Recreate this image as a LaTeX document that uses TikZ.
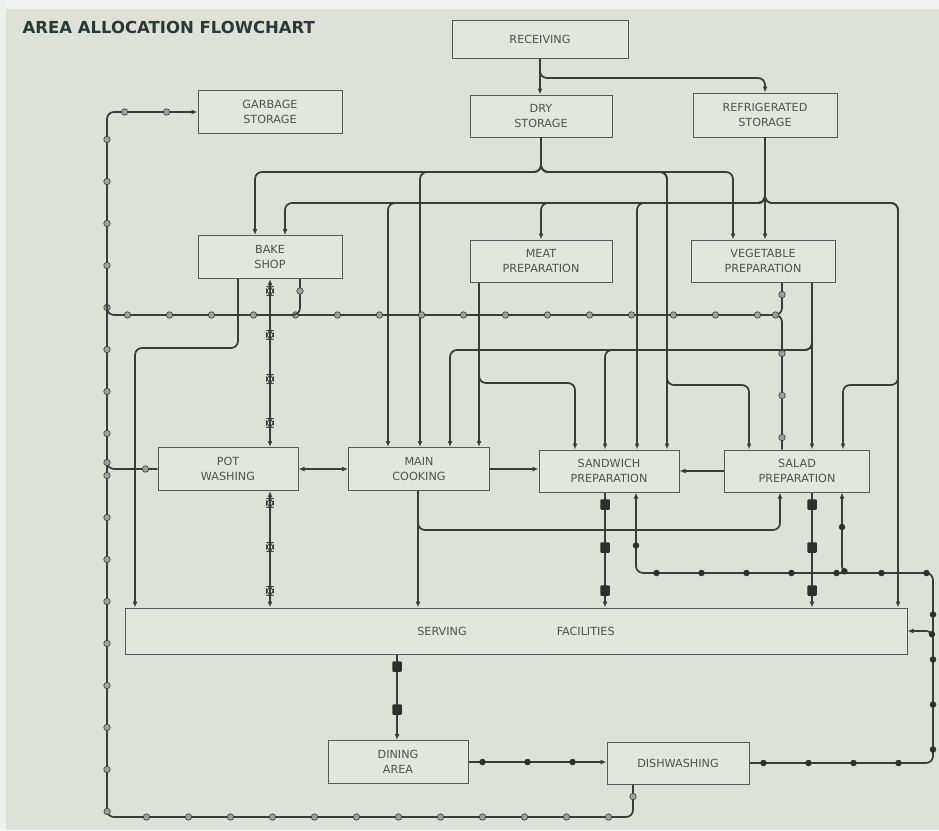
\documentclass[tikz,border=0pt]{standalone}
\usepackage{fontspec}
\newfontfamily\boxfont{DejaVu Sans}
\usetikzlibrary{arrows.meta,decorations.markings}

\definecolor{paper}{RGB}{222,225,215}
\definecolor{boxfill}{RGB}{227,230,221}
\definecolor{ink}{RGB}{58,60,56}
\definecolor{boxtext}{RGB}{80,82,78}
\definecolor{titleink}{RGB}{42,56,56}

\tikzset{
  area/.style={draw=ink!85, line width=1pt, fill=boxfill, minimum width=142pt,
    minimum height=42pt, align=center, inner sep=2pt, text=boxtext,
    font=\boxfont\fontsize{11.2}{15}\selectfont},
  heading/.style={anchor=west, text=titleink, font=\boxfont\bfseries\fontsize{16.5}{18}\selectfont},
  flow/.style={draw=ink, line width=1.7pt, rounded corners=7pt},
  tip/.style={-{Latex[length=6pt,width=5pt]}},
  twotip/.style={{Latex[length=6pt,width=5pt]}-{Latex[length=6pt,width=5pt]}},
  % markers on the lines
  wastedot/.style={circle, draw=ink, fill=gray!75, line width=0.6pt, inner sep=0pt, minimum size=6.5pt},
  potbox/.style={rectangle, draw=ink, line width=0.8pt, inner sep=0pt, minimum width=7pt, minimum height=9pt},
  foodbox/.style={rectangle, fill=ink!80!black, inner sep=0pt, minimum width=9.5pt, minimum height=10.5pt, rounded corners=1pt},
  dishdot/.style={circle, fill=ink!80!black, inner sep=0pt, minimum size=6.5pt},
  waste/.style={flow, postaction={decorate}, decoration={markings,
    mark=between positions 12pt and -8pt step 42pt with {\node[wastedot]{};}}},
  potline/.style={flow, postaction={decorate}, decoration={markings,
    mark=between positions 12pt and -8pt step 44pt with {\node[potbox]{};}}},
  foodline/.style={flow, postaction={decorate}, decoration={markings,
    mark=between positions 12pt and -8pt step 43pt with {\node[foodbox]{};}}},
  dishline/.style={flow, postaction={decorate}, decoration={markings,
    mark=between positions 14pt and -8pt step 45pt with {\node[dishdot]{};}}},
}

\begin{document}
\begin{tikzpicture}[x=1pt, y=-1pt]

  \useasboundingbox (0,0) rectangle (939,830);
  \fill[paper] (0,0) rectangle (939,830);
  \fill[white!60!paper] (0,0) rectangle (939,9);
  \fill[white!50!paper] (0,0) rectangle (6,830);

  \node[heading] (title) at (19,27) {AREA ALLOCATION FLOWCHART};

  % areas
  \node[area, minimum width=176pt, minimum height=38pt] (rec) at (540,39) {RECEIVING};
  \node[area, minimum width=144pt, minimum height=43pt] (garb) at (270,112) {GARBAGE\\STORAGE};
  \node[area] (dry) at (541,116) {DRY\\STORAGE};
  \node[area, minimum width=144pt, minimum height=44pt] (refr) at (765,115) {REFRIGERATED\\STORAGE};
  \node[area, minimum width=144pt, minimum height=43pt] (bake) at (270,257) {BAKE\\SHOP};
  \node[area] (meat) at (541,261) {MEAT\\PREPARATION};
  \node[area, minimum width=144pt] (veg) at (763,261) {VEGETABLE\\PREPARATION};
  \node[area, minimum width=140pt, minimum height=43pt] (pot) at (228,469) {POT\\WASHING};
  \node[area, minimum width=141pt, minimum height=43pt] (main) at (419,469) {MAIN\\COOKING};
  \node[area, minimum width=140pt] (sand) at (609,471) {SANDWICH\\PREPARATION};
  \node[area, minimum width=145pt] (salad) at (797,471) {SALAD\\PREPARATION};
  \node[area, minimum width=782pt, minimum height=46pt] (serv) at (516,631) {SERVING\hspace{90pt}FACILITIES};
  \node[area, minimum width=140pt, minimum height=43pt] (dine) at (398,762) {DINING\\AREA};
  \node[area, minimum width=142pt] (dish) at (678,763) {DISHWASHING};

  % joins onto lines already drawn
  \coordinate (bakejoin) at (284,315);
  \coordinate (wastejoin) at (107,296);
  \coordinate (saladwaste) at (766,315);
  \coordinate (potjoin) at (107,452);
  \coordinate (saladjoin) at (858,573);
  \coordinate (servjoin) at (933,648);

  % receiving
  \draw[flow,tip] (rec.south) -- (rec.south |- dry.north);
  \draw[flow,tip] (rec.south) -- (540,78) -- (765,78) -- (refr.north);

  % dry storage
  \draw[flow,tip] (dry.south) -- (541,172) -- (255,172) -- (255,0 |- bake.north);
  \draw[flow,tip] (dry.south) -- (541,172) -- (420,172) -- (420,0 |- main.north);
  \draw[flow,tip] (dry.south) -- (541,172) -- (733,172) -- (733,0 |- veg.north);
  \draw[flow,tip] (dry.south) -- (541,172) -- (667,172) -- (667,0 |- sand.north);
  \draw[flow,tip] (dry.south) -- (541,172) -- (667,172) -- (667,385) -- (749,385) -- (749,0 |- salad.north);

  % refrigerated storage
  \draw[flow,tip] (refr.south) -- (765,0 |- veg.north);
  \draw[flow,tip] (refr.south) -- (765,203) -- (285,203) -- (285,0 |- bake.north);
  \draw[flow,tip] (refr.south) -- (765,203) -- (388,203) -- (388,0 |- main.north);
  \draw[flow,tip] (refr.south) -- (765,203) -- (541,203) -- (meat.north);
  \draw[flow,tip] (refr.south) -- (765,203) -- (637,203) -- (637,0 |- sand.north);
  \draw[flow,tip] (refr.south) -- (765,203) -- (898,203) -- (898,0 |- serv.north);
  \draw[flow,tip] (refr.south) -- (765,203) -- (898,203) -- (898,385) -- (843,385) -- (843,0 |- salad.north);

  % meat and vegetable preparation
  \draw[flow,tip] (479,0 |- meat.south) -- (479,0 |- main.north);
  \draw[flow,tip] (479,0 |- meat.south) -- (479,383) -- (575,383) -- (575,0 |- sand.north);
  \draw[flow,tip] (812,0 |- veg.south) -- (812,0 |- salad.north);
  \draw[flow,tip] (812,0 |- veg.south) -- (812,350) -- (450,350) -- (450,0 |- main.north);
  \draw[flow,tip] (812,0 |- veg.south) -- (812,350) -- (605,350) -- (605,0 |- sand.north);

  % bake shop and pot washing
  \draw[flow,tip] (238,0 |- bake.south) -- (238,348) -- (135,348) -- (135,0 |- serv.north);
  \draw[potline,twotip] (270,0 |- bake.south) -- (270,0 |- pot.north);
  \draw[potline,twotip] (270,0 |- pot.south) -- (270,0 |- serv.north);
  \draw[flow,twotip] (pot.east) -- (main.west);

  % cooking and preparation
  \draw[flow,tip] (main.east) -- (main.east -| sand.west);
  \draw[flow,tip] (418,0 |- main.south) -- (418,0 |- serv.north);
  \draw[flow,tip] (418,0 |- main.south) -- (418,530) -- (780,530) -- (780,0 |- salad.south);
  \draw[flow,tip] (salad.west) -- (salad.west -| sand.east);
  \draw[foodline,tip] (605,0 |- sand.south) -- (605,0 |- serv.north);
  \draw[foodline,tip] (812,0 |- salad.south) -- (812,0 |- serv.north);
  \draw[foodline,tip] (397,0 |- serv.south) -- (397,0 |- dine.north);

  % dishes
  \draw[dishline,tip] (dine.east) -- (dine.east -| dish.west);
  \draw[dishline,tip] (dish.east) -- (933,763) -- (933,573) -- (636,573) -- (636,0 |- sand.south);
  \draw[dishline,tip] (saladjoin) -- (842,573) -- (842,0 |- salad.south);
  \draw[dishline,tip] (servjoin) -- (933,631) -- (serv.east);

  % garbage
  \draw[waste,tip] (633,0 |- dish.south) -- (633,817) -- (107,817) -- (107,112) -- (garb.west);
  \draw[waste] (782,0 |- veg.south) -- (782,315) -- (107,315) -- (wastejoin);
  \draw[waste] (782,0 |- salad.north) -- (782,315) -- (saladwaste);
  \draw[waste] (300,0 |- bake.south) -- (300,315) -- (bakejoin);
  \draw[waste] (pot.west) -- (107,469) -- (potjoin);

\end{tikzpicture}
\end{document}
